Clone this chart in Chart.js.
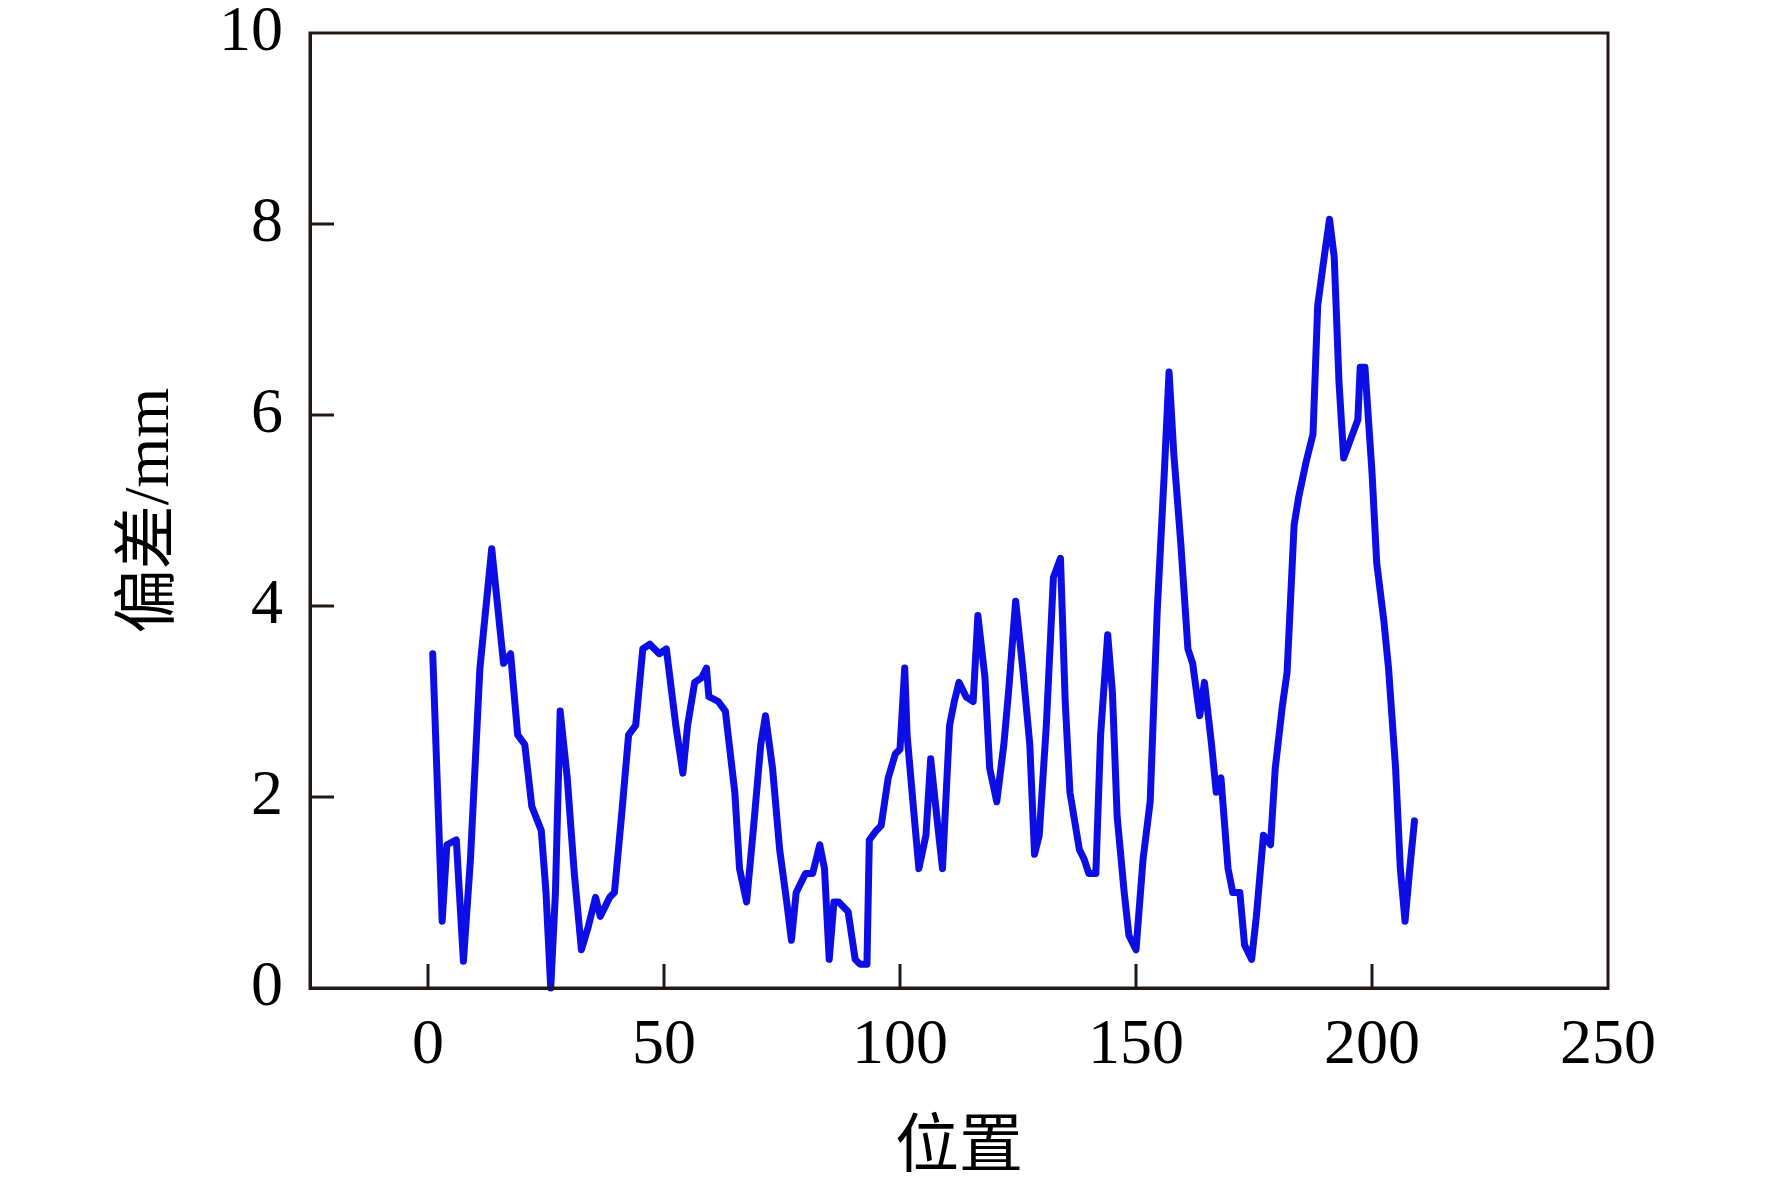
<!DOCTYPE html>
<html><head><meta charset="utf-8">
<script src="https://cdn.jsdelivr.net/npm/chart.js@4"></script>
<style>html,body{margin:0;padding:0;background:#fff;}#wrap{width:1772px;height:1182px;}</style>
</head><body><div id="wrap"><canvas id="c" width="1772" height="1182"></canvas></div>
<script>
const positions = [1,3,4,6,7.5,9,11,13.5,16,17.5,19,20.5,22,24,25,26,27,28,29.5,31,32.5,34,35.5,36.5,38.5,39.5,41,42.5,44,45.5,47,49,50.5,52.5,54,55,56.5,58,59,59.5,61.5,63,65,66,67.5,69,70.5,71.5,73,74.5,76,77,78,80,81.5,83,84,85,86,87,89,90.5,91.5,93,93.5,95,96,97.5,99,100,101,101.5,103,104,105.5,106.5,108,109,110.5,111.5,112.5,114,115.5,116.5,118,119,120.5,122,123,124.5,126,127.5,128.5,129.5,131,132.5,134,135,136,138,139,140,141.5,142.5,144,145,146,147.5,148.5,150,151.5,153,154.5,156,157,158,159.5,161,162,163.5,164.5,166,167,168,169.5,170.5,172,173,174.5,175.5,177,178.5,179.5,181,182,183.5,184.5,186,187.5,188.5,190,191,192,193,194,195.5,197,197.5,198.5,200,201,202.5,203.5,205,206,207,208,209];
const deviation = [3.5,0.7,1.5,1.55,0.28,1.35,3.35,4.6,3.4,3.5,2.65,2.55,1.9,1.65,1.0,0,1.0,2.9,2.2,1.2,0.4,0.65,0.95,0.75,0.95,1.0,1.8,2.65,2.75,3.55,3.6,3.5,3.55,2.75,2.25,2.75,3.2,3.25,3.35,3.05,3.0,2.9,2.05,1.25,0.9,1.7,2.55,2.85,2.3,1.45,0.9,0.5,1.0,1.2,1.2,1.5,1.25,0.3,0.9,0.9,0.8,0.3,0.25,0.25,1.55,1.65,1.7,2.2,2.45,2.5,3.35,2.65,1.8,1.25,1.6,2.4,1.7,1.25,2.75,3.0,3.2,3.05,3.0,3.9,3.25,2.3,1.95,2.55,3.1,4.05,3.35,2.55,1.4,1.6,2.75,4.3,4.5,3.0,2.05,1.45,1.35,1.2,1.2,2.65,3.7,3.1,1.8,1.0,0.55,0.4,1.35,1.95,3.95,5.4,6.45,5.6,4.65,3.55,3.4,2.85,3.2,2.55,2.05,2.2,1.25,1.0,1.0,0.45,0.3,0.75,1.6,1.5,2.3,2.95,3.3,4.85,5.15,5.5,5.8,7.15,7.7,8.05,7.65,6.35,5.55,5.75,5.95,6.5,6.5,5.4,4.45,3.85,3.35,2.3,1.25,0.7,1.25,1.75];
const xTicks = [0,50,100,150,200,250];
const yTicks = [0,2,4,6,8,10];
const xTitle = '位置';
const yTitle = '偏差/mm';

const AXIS = '#231815';
const FONT = "'Liberation Serif', 'Noto Sans CJK SC', serif";

const frame = {
  id: 'frame',
  afterDraw(chart) {
    const {ctx, chartArea: a, scales: {x, y}} = chart;
    ctx.save();
    ctx.strokeStyle = AXIS;
    ctx.lineWidth = 3;
    ctx.beginPath();
    for (const v of xTicks) {
      if (v <= x.min || v >= x.max) continue;
      const px = x.getPixelForValue(v);
      ctx.moveTo(px, a.bottom); ctx.lineTo(px, a.bottom - 24);
    }
    for (const v of yTicks) {
      if (v <= y.min || v >= y.max) continue;
      const py = y.getPixelForValue(v);
      ctx.moveTo(a.left, py); ctx.lineTo(a.left + 24, py);
    }
    ctx.stroke();
    ctx.strokeRect(a.left, a.top, a.right - a.left, a.bottom - a.top);
    ctx.restore();
  }
};

new Chart(document.getElementById('c'), {
  type: 'scatter',
  data: {
    datasets: [{
      data: positions.map((p, i) => ({x: p, y: deviation[i]})),
      showLine: true,
      borderColor: '#0d0de6',
      borderWidth: 7,
      borderJoinStyle: 'round',
      borderCapStyle: 'round',
      pointRadius: 0,
      tension: 0,
      fill: false,
      clip: false
    }]
  },
  options: {
    responsive: false,
    animation: false,
    devicePixelRatio: 1,
    layout: {padding: {left: 0, right: 164, top: 33, bottom: 0}},
    plugins: {legend: {display: false}, tooltip: {enabled: false}},
    scales: {
      x: {
        type: 'linear', min: -25, max: 250,
        afterBuildTicks(s) { s.ticks = xTicks.map(v => ({value: v})); },
        afterFit(s) { s.height = 194; s.paddingLeft = 0; s.paddingRight = 0; },
        grid: {display: false, drawTicks: false},
        border: {display: true, color: AXIS, width: 3},
        ticks: {color: '#000', font: {family: FONT, size: 64}, padding: 20, maxRotation: 0, autoSkip: false},
        title: {display: true, text: xTitle, color: '#000', font: {family: FONT, size: 64}, padding: {top: 0, bottom: -6}}
      },
      y: {
        type: 'linear', min: 0, max: 10,
        afterBuildTicks(s) { s.ticks = yTicks.map(v => ({value: v})); },
        afterFit(s) { s.width = 310; s.paddingTop = 0; s.paddingBottom = 0; },
        grid: {display: false, drawTicks: false},
        border: {display: true, color: AXIS, width: 3},
        ticks: {color: '#000', font: {family: FONT, size: 64}, padding: 27, autoSkip: false},
        title: {display: true, text: yTitle, color: '#000', font: {family: FONT, size: 64}, padding: {top: 113, bottom: 0}}
      }
    }
  },
  plugins: [frame]
});
</script></body></html>
